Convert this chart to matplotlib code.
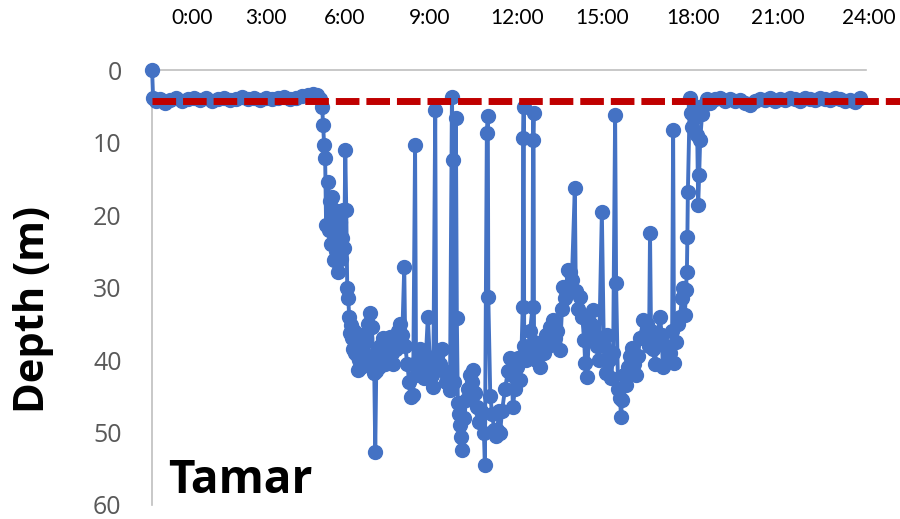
import numpy as np
import matplotlib.pyplot as plt

# time of day in minutes, depth in m
mins_pre = [0, 2, 8, 16, 26, 37, 49, 61, 73, 85, 98, 110, 122, 134, 146, 159, 171, 183,
            195, 207, 220, 232, 244, 256, 268, 281, 293, 305, 317, 327, 336, 342]
depth_pre = [0, 3.8, 4.2, 4.0, 4.5, 4.1, 3.9, 4.2, 4.0, 3.8, 4.1, 3.9, 4.2, 4.0, 3.8, 4.1, 4.0, 3.7,
             4.0, 3.9, 4.1, 3.8, 4.0, 3.9, 3.7, 4.0, 3.8, 3.6, 3.4, 3.3, 3.5, 4.0]

mins_day = [346, 348, 350, 352, 354, 358, 360, 362, 364, 366, 368, 370, 372, 374, 376, 378, 380, 382,
            384, 386, 388, 391, 393, 395, 397, 399, 401, 403, 405, 407, 409, 411, 413, 415, 417, 419,
            421, 423, 425, 427, 429, 431, 433,
            435, 439, 443, 447, 450, 452, 454, 456, 458, 460, 462, 464, 467, 470, 473, 476, 480, 484,
            488, 491, 494, 497, 500, 504,
            509, 513, 515, 519, 523, 527, 531, 535, 537, 541, 545, 549, 553, 557, 561, 565, 570, 572,
            576, 578, 582, 586, 590, 594, 598, 602, 606, 610, 612, 614, 618, 620, 622, 624, 626, 629,
            631, 635, 639, 643, 647, 651, 653, 657, 661, 665, 669, 675, 677, 681, 683, 684, 688, 692,
            696, 700, 702, 706, 708, 712, 718, 724, 728, 732, 734, 738, 742, 744, 749, 751, 754, 755,
            756, 757, 761, 765, 769, 774, 775, 776, 777, 781, 785, 789, 793, 797, 801, 805, 810, 816,
            820, 824, 830, 834, 836, 840, 846, 850, 854, 860, 862, 867, 871, 875, 879, 881, 885, 889,
            893, 897, 901, 905, 909, 915, 919, 923, 925, 929, 934, 938, 942, 944, 948, 952, 954, 956,
            960, 964, 968, 972, 976, 980, 984, 988, 993, 999, 1003, 1007, 1011, 1013, 1015, 1019, 1023,
            1027, 1033, 1037, 1039, 1043, 1050, 1054, 1058, 1060, 1062, 1066, 1070, 1074, 1078, 1080,
            1084, 1086, 1088, 1089, 1090, 1094, 1096, 1098, 1100, 1102, 1107, 1109, 1111, 1113, 1115,
            1119, 1123, 1129, 1135]
depth_day = [5.1, 7.6, 10.3, 12.1, 21.4, 15.4, 22.0, 18.0, 24.0, 17.5, 22.5, 26.2, 20.0, 25.0, 19.5, 27.8, 23.0, 21.0,
             26.0, 23.2, 19.3, 24.5, 11.0, 19.3, 30.1, 31.4, 34.0, 36.3, 35.2, 37.0, 38.5, 36.0, 39.0, 37.5, 39.3, 41.4,
             40.0, 38.5, 41.0, 36.5, 38.0, 39.0, 40.5,
             37.0, 35.0, 33.5, 35.4, 39.7, 41.8, 52.7, 41.5, 39.5, 40.0, 41.0, 38.0, 39.5, 37.0, 40.5, 40.0, 38.5, 36.8,
             39.0, 40.5, 37.5, 38.5, 36.0, 35.0,
             36.5, 27.2, 38.0, 40.5, 43.0, 45.1, 44.8, 10.3, 42.0, 40.0, 38.5, 41.0, 42.5, 39.5, 34.0, 40.0, 42.0, 43.7,
             5.5, 41.0, 39.0, 40.5, 38.5, 41.5, 43.0, 42.5, 44.1, 3.7, 12.4, 43.0, 6.6, 34.2, 45.9, 47.5, 49.0, 50.6,
             52.4, 48.0, 45.5, 44.0, 42.0, 43.0, 41.4, 44.5, 46.5, 48.5, 47.0, 50.0, 54.5, 8.7, 6.4, 31.3, 45.0, 47.5,
             49.7, 50.5, 49.7, 47.0, 50.0, 47.0, 44.0, 41.5, 39.7, 42.0, 46.5, 44.0, 41.0, 39.7, 42.8, 40.0, 32.7, 9.4,
             5.1, 38.0, 40.0, 38.5, 36.0, 32.7, 9.7, 5.9, 37.5, 40.0, 38.5, 41.0, 37.5, 39.0, 36.5, 38.0, 35.5, 34.5,
             37.0, 36.0, 38.6, 33.0, 29.9, 31.5, 27.6, 27.9, 29.0, 16.3, 30.5, 33.0, 31.3, 34.0, 37.2, 40.4, 42.3, 36.0,
             35.0, 33.1, 36.5, 38.0, 40.0, 19.6, 38.0, 41.8, 36.6, 40.0, 42.5, 39.0, 6.2, 29.4, 44.0, 45.2, 47.9, 45.5,
             42.0, 43.5, 41.0, 39.5, 38.3, 40.5, 42.0, 39.5, 37.0, 34.5, 36.5, 35.0, 38.0, 22.5, 36.0, 38.5, 40.5,
             37.0, 34.0, 36.5, 41.0, 38.0, 40.0, 39.0, 36.0, 8.3, 40.4, 37.5, 35.0, 34.0, 31.5, 30.0,
             33.8, 30.3, 27.9, 23.0, 16.8, 3.9, 5.9, 7.8, 6.0, 5.0, 6.5, 9.0, 18.6, 14.5, 9.7,
             6.0, 4.8, 4.0, 4.5]

mins_post = [1145, 1155, 1165, 1176, 1186, 1196, 1206, 1216, 1227, 1237, 1247, 1257, 1267, 1277, 1288,
             1298, 1308, 1318, 1328, 1338, 1349, 1359, 1369, 1379, 1389, 1399, 1410, 1420, 1430, 1440]
depth_post = [4.0, 3.8, 4.2, 4.0, 4.3, 4.1, 4.6, 4.8, 4.2, 4.0, 4.1, 3.9, 4.2, 4.0, 4.1,
              3.9, 4.0, 4.2, 3.9, 4.0, 4.1, 3.8, 4.0, 4.1, 3.9, 4.0, 4.3, 4.1, 4.4, 3.9]

threshold = 4.2
time_labels = ["0:00", "3:00", "6:00", "9:00", "12:00", "15:00", "18:00", "21:00", "24:00"]
label_px = [192, 266, 345, 430, 517, 602, 693, 778, 869]

hours = np.array(mins_pre + mins_day + mins_post) / 60
depth = np.array(depth_pre + depth_day + depth_post)

fig = plt.figure(figsize=(9, 5.19), dpi=100)
ax = fig.add_axes([0.169, 0.027, 0.793, 0.838])

ax.plot(hours, depth, color="#4472C4", lw=2.8, marker="o", markersize=10,
        clip_on=False, zorder=3)
ax.plot([0, 25.5], [threshold, threshold], color="#C00000", lw=5,
        linestyle=(0, (3.4, 1.0)), dash_capstyle="butt", clip_on=False, zorder=4)

ax.set_xlim(0, 24.2)
ax.set_ylim(60, 0)
ax.set_xticks([])
ax.set_yticks(range(0, 61, 10))
ax.tick_params(axis="y", length=0, pad=22, labelsize=18, labelcolor="#595959")
for lab in ax.get_yticklabels():
    lab.set_fontfamily("Open Sans")

for s in ["right", "bottom"]:
    ax.spines[s].set_visible(False)
for s in ["left", "top"]:
    ax.spines[s].set_color("#BFBFBF")
    ax.spines[s].set_linewidth(1.2)

ax.set_ylabel("Depth (m)", fontsize=30, fontweight="bold", family="Open Sans")
ax.yaxis.set_label_coords(-0.138, 0.45, transform=ax.transAxes)

ax.text(0.022, 0.028, "Tamar", transform=ax.transAxes, fontsize=33,
        fontweight="bold", family="Open Sans", ha="left", va="baseline")

for lab, px in zip(time_labels, label_px):
    fig.text(px / 900, 1 - 18 / 519, lab, ha="center", va="center",
             fontsize=15, family="Lato", color="black")

fig.savefig("out.png", dpi=100)
